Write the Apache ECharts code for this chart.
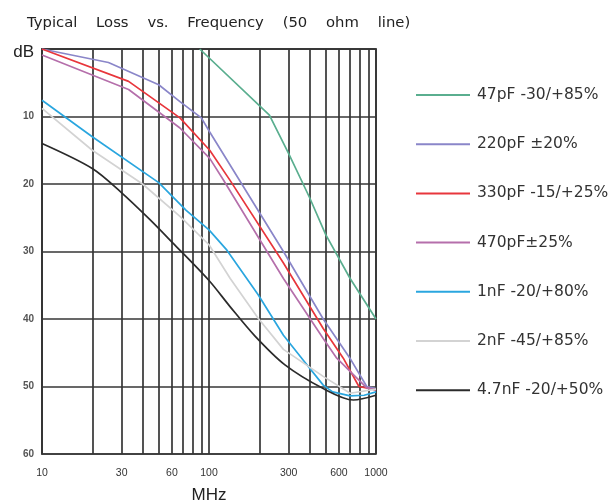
<!DOCTYPE html>
<html><head><meta charset="utf-8">
<script src="https://cdn.jsdelivr.net/npm/echarts@6/dist/echarts.min.js"></script>
<style>html,body{margin:0;padding:0;background:#fff}#c{width:616px;height:502px}</style>
</head><body><div id="c"></div>
<script>
const titleText = 'Typical    Loss    vs.    Frequency    (50    ohm    line)';
const xName = 'MHz';
const seriesNames = ['47pF -30/+85%', '220pF \u00b120%', '330pF -15/+25%', '470pF\u00b125%', '1nF -20/+80%', '2nF -45/+85%', '4.7nF -20/+50%'];
const seriesColors = ['#5aae8f', '#8a86c9', '#e8363c', '#b56fab', '#2aa6df', '#d3d3d3', '#2b2b2b'];
// [MHz, dB]
const c47pF = [[88,0],[230,9.8],[300,15.5],[400,22],[500,27.5],[700,34],[1000,40]];
const c220pF = [[10,0],[25,2],[50,5.3],[67,7.8],[90,10.2],[101,12.3],[279,30],[483,40],[698,45.8],[880,50],[1000,50.3]];
const c330pF = [[10,0],[33,4.8],[67,10.2],[101,15],[134,19.5],[279,31.7],[483,41.4],[637,45.8],[790,50],[1000,50.5]];
const c470pF = [[10,0.9],[33,6],[67,11.7],[101,16.2],[122,19.4],[279,34],[483,42.9],[582,45.8],[880,50.2],[1000,50.5]];
const c1nF = [[10,7.6],[20,13],[50,19.8],[73,23.9],[100,26.8],[128,29.8],[197,36.4],[279,42.4],[367,46.1],[483,49.8],[550,50.8],[700,51.4],[850,51.3],[1000,50.8]];
const c2nF = [[10,8.8],[20,15],[40,20],[67,24.8],[100,29],[134,34],[197,39.9],[279,44.5],[483,48.5],[700,51],[1000,50.4]];
const c47nF = [[10,14],[20,17.7],[30,21.3],[44,25.2],[60,28.6],[100,34.3],[134,38.2],[188,42.5],[285,46.8],[483,50.3],[731,52],[1000,51.3]];
const seriesData = [c47pF, c220pF, c330pF, c470pF, c1nF, c2nF, c47nF];
const xGridValues = [10,20,30,40,50,60,70,80,90,100,200,300,400,500,600,700,800,900,1000];
const xLabelValues = [10,30,60,100,300,600,1000];

const chart = echarts.init(document.getElementById('c'), null, {renderer: 'canvas'});
const gridStyle = {color: '#363636', width: 1.7};
chart.setOption({
  animation: false,
  backgroundColor: '#fff',
  title: {
    text: titleText, left: 22, top: 11,
    textStyle: {fontFamily: 'DejaVu Sans', fontSize: 14.8, fontWeight: 'normal', color: '#222'}
  },
  grid: {left: 42, right: 240, top: 49, bottom: 48, show: true, borderColor: '#363636', borderWidth: 1.7,
    containLabel: false, outerBoundsMode: 'none'},
  legend: {
    orient: 'vertical', left: 411, top: 82, itemWidth: 54, itemHeight: 2, itemGap: 33.2,
    icon: 'rect',
    textStyle: {fontFamily: 'DejaVu Sans', fontSize: 15.5, color: '#333', lineHeight: 16, padding: [0,0,0,2]},
    data: seriesNames
  },
  xAxis: {
    type: 'log', logBase: 10, min: 10, max: 1000,
    name: xName, nameLocation: 'middle', nameGap: 33,
    nameTextStyle: {fontFamily: 'Liberation Sans', fontSize: 17, color: '#222'},
    axisLine: {lineStyle: gridStyle},
    axisTick: {show: false, customValues: xGridValues},
    splitLine: {show: true, lineStyle: gridStyle},
    minorSplitLine: {show: false},
    axisLabel: {customValues: xLabelValues, margin: 14, fontFamily: 'Liberation Sans', fontSize: 10.5, color: '#333',
      formatter: v => String(Math.round(v))}
  },
  yAxis: {
    type: 'value', inverse: true, min: 0, max: 60, interval: 10,
    axisLine: {show: true, lineStyle: gridStyle},
    axisTick: {show: false},
    splitLine: {show: true, lineStyle: gridStyle},
    axisLabel: {
      margin: 8, fontFamily: 'Liberation Sans', fontSize: 10, fontWeight: 'bold', color: '#555',
      formatter: v => v === 0 ? '{db|dB}' : String(v),
      rich: {db: {fontFamily: 'Liberation Sans', fontSize: 17, color: '#222', fontWeight: 'normal', padding: [6,0,0,0]}}
    }
  },
  series: seriesNames.map((n, i) => ({
    name: n, type: 'line', data: seriesData[i], symbol: 'none',
    smooth: (i === 6) ? 0.3 : false,
    clip: true,
    itemStyle: {color: seriesColors[i]},
    lineStyle: {color: seriesColors[i], width: 1.7}
  }))
});
</script></body></html>
